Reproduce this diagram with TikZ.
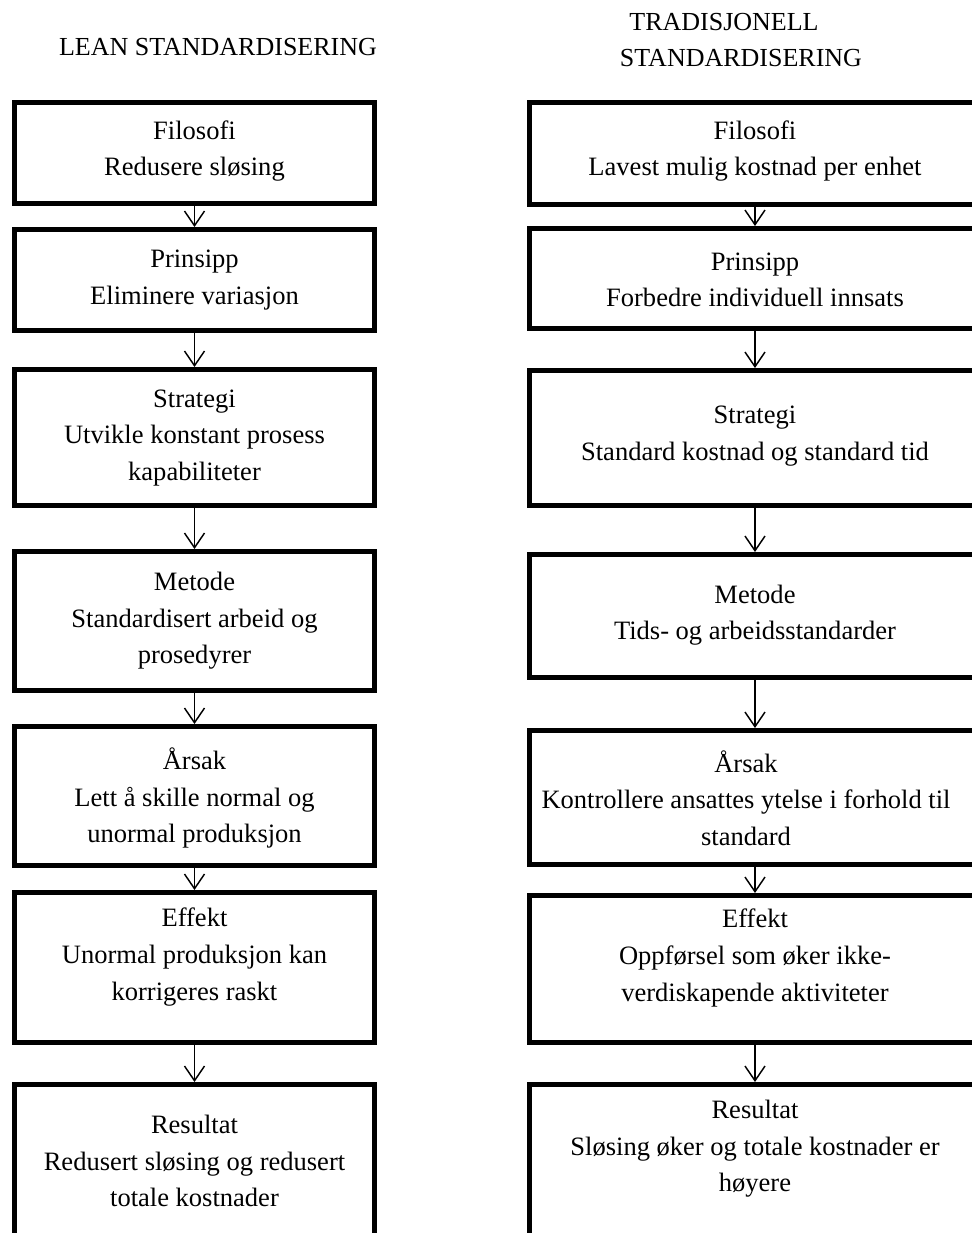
\documentclass[tikz,border=0pt]{standalone}
\usepackage{fontspec}
\setmainfont{Liberation Serif}
\usetikzlibrary{arrows.meta}

\begin{document}
\begin{tikzpicture}[x=0.75pt,y=-0.75pt,
  box/.style={draw=black,line width=3.75pt,fill=white,inner sep=0pt},
  lbox/.style={box,minimum width=270pt},
  rbox/.style={box,minimum width=338.25pt},
  txt/.style={align=center,inner sep=0pt,font=\fontsize{19.9pt}{27.4pt}\selectfont},
  ttl/.style={inner sep=0pt,font=\fontsize{19.5pt}{27pt}\selectfont},
  arr/.style={line width=1.1pt,-{Straight Barb[length=11pt,width=15pt,line width=1.1pt]}}]
\useasboundingbox (0,0) rectangle (972,1233);
\clip (0,0) rectangle (972,1233);

% column headings
\node[ttl] (hl) at (218,47) {LEAN STANDARDISERING};
\node[ttl] (hr1) at (724,22) {TRADISJONELL};
\node[ttl] (hr2) at (741,58) {STANDARDISERING};

% left column: lean standardisation
\node[lbox,minimum height=101*0.75pt] (L1) at (194.5,153) {};
\node[lbox,minimum height=101*0.75pt] (L2) at (194.5,280) {};
\node[lbox,minimum height=136*0.75pt] (L3) at (194.5,437.5) {};
\node[lbox,minimum height=139*0.75pt] (L4) at (194.5,621) {};
\node[lbox,minimum height=139*0.75pt] (L5) at (194.5,796) {};
\node[lbox,minimum height=150*0.75pt] (L6) at (194.5,967.5) {};
\node[lbox,minimum height=155*0.75pt] (L7) at (194.5,1162) {};

\node[txt] (L1t) at (194.5,151) {Filosofi\\Redusere sløsing};
\node[txt] (L2t) at (194.5,280) {Prinsipp\\Eliminere variasjon};
\node[txt] (L3t) at (194.5,438) {Strategi\\Utvikle konstant prosess\\kapabiliteter};
\node[txt] (L4t) at (194.5,621) {Metode\\Standardisert arbeid og\\prosedyrer};
\node[txt] (L5t) at (194.5,798) {Årsak\\Lett å skille normal og\\unormal produksjon};
\node[txt] (L6t) at (194.5,957) {Effekt\\Unormal produksjon kan\\korrigeres raskt};
\node[txt] (L7t) at (194.5,1161) {Resultat\\Redusert sløsing og redusert\\totale kostnader};

% right column: traditional standardisation
\node[rbox,minimum height=102*0.75pt] (R1) at (755,153.5) {};
\node[rbox,minimum height=100*0.75pt] (R2) at (755,278.5) {};
\node[rbox,minimum height=135*0.75pt] (R3) at (755,438) {};
\node[rbox,minimum height=123*0.75pt] (R4) at (755,616) {};
\node[rbox,minimum height=134*0.75pt] (R5) at (755,797.5) {};
\node[rbox,minimum height=147*0.75pt] (R6) at (755,969) {};
\node[rbox,minimum height=155*0.75pt] (R7) at (755,1162) {};

\node[txt] (R1t) at (755,151) {Filosofi\\Lavest mulig kostnad per enhet};
\node[txt] (R2t) at (755,280) {Prinsipp\\Forbedre individuell innsats};
\node[txt] (R3t) at (755,436) {Strategi\\Standard kostnad og standard tid};
\node[txt] (R4t) at (755,615) {Metode\\Tids- og arbeidsstandarder};
\node[txt] (R5t) at (746,798) {Årsak\\Kontrollere ansattes ytelse i forhold til\\standard};
\node[txt] (R6t) at (755,958) {Effekt\\Oppførsel som øker ikke-\\verdiskapende aktiviteter};
\node[txt] (R7t) at (755,1149) {Resultat\\Sløsing øker og totale kostnader er\\høyere};

% connectors
\foreach \a/\b in {L1/L2,L2/L3,L3/L4,L4/L5,L5/L6,L6/L7,R1/R2,R2/R3,R3/R4,R4/R5,R5/R6,R6/R7}
  \draw[arr] (\a.south) -- (\b.north);
\end{tikzpicture}
\end{document}
